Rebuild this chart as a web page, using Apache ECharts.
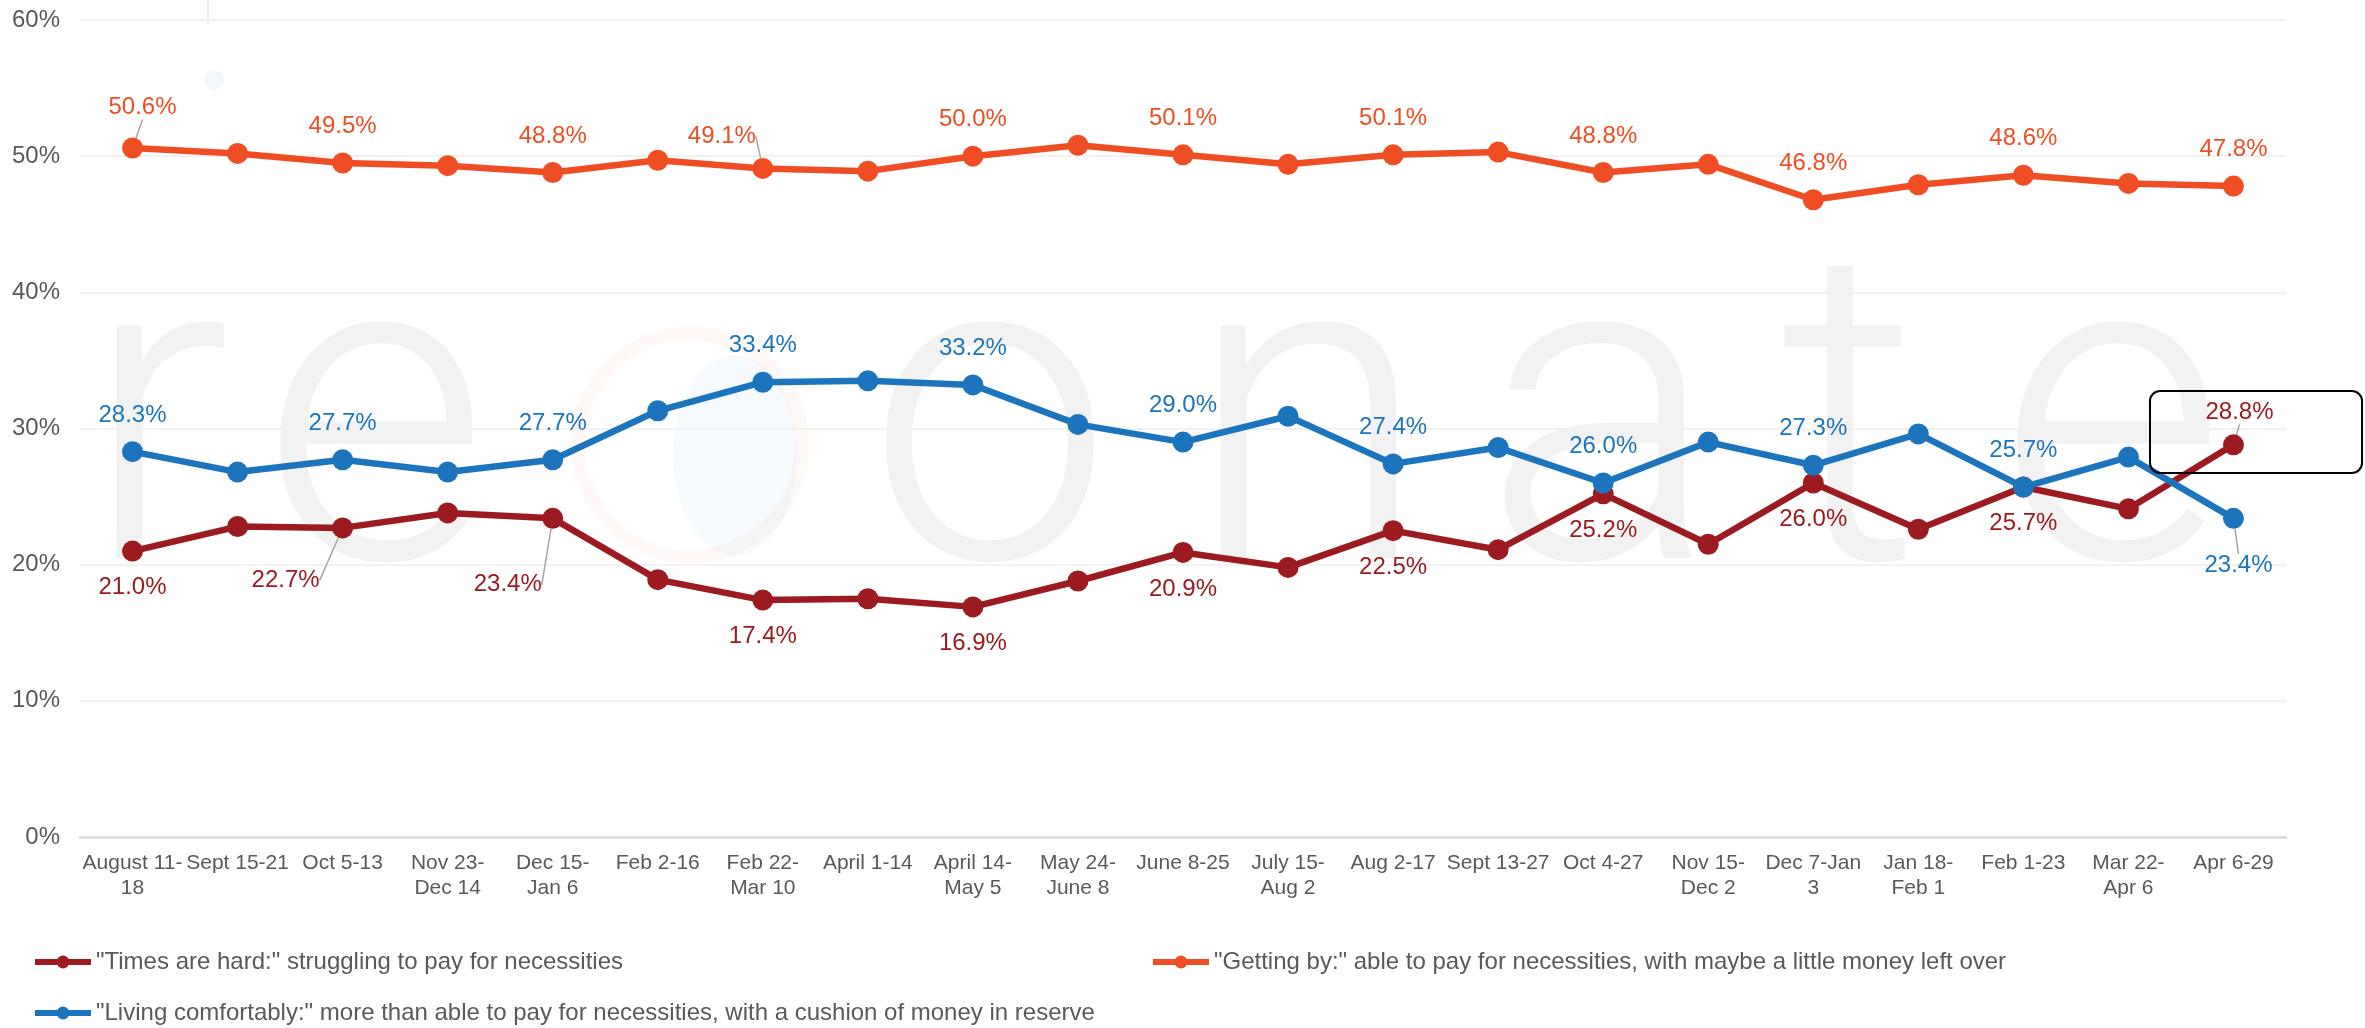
<!DOCTYPE html>
<html><head><meta charset="utf-8">
<script src="https://cdn.jsdelivr.net/npm/echarts@6/dist/echarts.min.js"></script>
<style>html,body{margin:0;padding:0;background:#fff}#c{width:2365px;height:1028px}</style>
</head><body><div id="c"></div>
<script>
// ---- data ----
const categories = ["August 11-\n18","Sept 15-21","Oct 5-13","Nov 23-\nDec 14","Dec 15-\nJan 6","Feb 2-16","Feb 22-\nMar 10","April 1-14","April 14-\nMay 5","May 24-\nJune 8","June 8-25","July 15-\nAug 2","Aug 2-17","Sept 13-27","Oct 4-27","Nov 15-\nDec 2","Dec 7-Jan\n3","Jan 18-\nFeb 1","Feb 1-23","Mar 22-\nApr 6","Apr 6-29"];
const timesHard = [21.0,22.8,22.7,23.8,23.4,18.9,17.4,17.5,16.9,18.8,20.9,19.8,22.5,21.1,25.2,21.5,26.0,22.6,25.7,24.1,28.8];
const gettingBy = [50.6,50.2,49.5,49.3,48.8,49.7,49.1,48.9,50.0,50.8,50.1,49.4,50.1,50.3,48.8,49.4,46.8,47.9,48.6,48.0,47.8];
const livingComfortably = [28.3,26.8,27.7,26.8,27.7,31.3,33.4,33.5,33.2,30.3,29.0,30.9,27.4,28.6,26.0,29.0,27.3,29.6,25.7,27.9,23.4];
const seriesNames = ['"Times are hard:" struggling to pay for necessities','"Getting by:" able to pay for necessities, with maybe a little money left over','"Living comfortably:" more than able to pay for necessities, with a cushion of money in reserve'];
const yTicks = [0,10,20,30,40,50,60];
const labeledPoints = [0,2,4,6,8,10,12,14,16,18,20];

// ---- label adjustments (layout only) ----
const labelAdjust = {
  0: {20: {pos:'top', dx:6, dy:4, line:true}, 2: {dx:-57, dy:16, line:true}, 4: {dx:-45, dy:30, line:true}},
  1: {0: {dx:10, dy:-4, line:true}, 6: {dx:-41, dy:4, line:true}},
  2: {20: {pos:'bottom', dx:5, dy:11, line:true}}
};
const colors = ['#9B1B20', '#EF4E24', '#1C75BC'];
const basePos = ['bottom', 'top', 'top'];

function buildItems(values, s) {
  return values.map((v, i) => {
    const it = {value: v};
    if (labeledPoints.indexOf(i) < 0) { it.label = {show: false}; }
    else {
      const a = labelAdjust[s][i];
      if (a) {
        if (a.pos) it.label = {position: a.pos};
        if (a.line) it.labelLine = {show: true, lineStyle: {color: '#a6a6a6', width: 1.5}};
      }
    }
    return it;
  });
}

const allValues = [timesHard, gettingBy, livingComfortably];
const series = allValues.map((vals, s) => ({
  name: seriesNames[s],
  type: 'line',
  data: buildItems(vals, s),
  symbol: 'circle',
  symbolSize: 21,
  lineStyle: {color: colors[s], width: 6.5},
  itemStyle: {color: colors[s]},
  z: 3 + s,
  label: {
    show: true,
    position: basePos[s],
    distance: 14,
    color: colors[s],
    fontSize: 24,
    fontFamily: 'Liberation Sans, Arial, sans-serif',
    formatter: p => p.value.toFixed(1) + '%'
  },
  labelLine: {show: false},
  labelLayout: (p) => {
    const a = labelAdjust[s][p.dataIndex];
    if (a) return {dx: a.dx, dy: a.dy};
    return {};
  }
}));

const wmFont = 'Roboto, "Open Sans", sans-serif';
const wmLetters = [['r',157],['e',375],['o',990],['n',1308],['a',1601],['t',1850],['e',2112]];
const graphic = wmLetters.map(([ch, x]) => ({
  type: 'text', z: -10, silent: true,
  style: {text: ch, x: x, y: 448, align: 'center', verticalAlign: 'middle',
    font: '300 440px ' + wmFont, fill: '#f2f2f2'}
}));
graphic.push(
  {type: 'circle', z: -10, silent: true, shape: {cx: 690, cy: 445, r: 112},
   style: {fill: 'none', stroke: 'rgba(240,120,80,0.05)', lineWidth: 14}},
  {type: 'ellipse', z: -10, silent: true, shape: {cx: 735, cy: 455, rx: 62, ry: 100},
   style: {fill: 'rgba(28,117,188,0.035)'}},
  {type: 'line', z: -10, silent: true, shape: {x1: 208, y1: 0, x2: 208, y2: 23},
   style: {stroke: '#d9d9d9', lineWidth: 1}},
  {type: 'circle', z: -10, silent: true, shape: {cx: 214, cy: 80, r: 10},
   style: {fill: '#f4f8fa'}},
  {type: 'rect', z: 10, silent: true, shape: {x: 2150, y: 391, width: 212, height: 82, r: 10},
   style: {fill: 'none', stroke: '#000', lineWidth: 2}}
);

const legendCommon = {
  itemWidth: 56, itemHeight: 16, itemGap: 5, padding: 0,
  lineStyle: {width: 6},
  textStyle: {fontSize: 24, color: '#595959', fontFamily: 'Liberation Sans, Arial, sans-serif'},
  selectedMode: false
};

const option = {
  animation: false,
  backgroundColor: '#fff',
  textStyle: {fontFamily: 'Liberation Sans, Arial, sans-serif'},
  grid: {left: 80, right: 79, top: 20, bottom: 191, containLabel: false, outerBoundsMode: 'none'},
  xAxis: {
    type: 'category', data: categories, boundaryGap: true,
    axisLine: {lineStyle: {color: '#d9d9d9', width: 2.5}},
    axisTick: {show: false},
    axisLabel: {interval: 0, fontSize: 21, lineHeight: 25, margin: 14, color: '#595959'},
    splitLine: {show: false}
  },
  yAxis: {
    type: 'value', min: yTicks[0], max: yTicks[yTicks.length - 1], interval: yTicks[1] - yTicks[0],
    axisLine: {show: false}, axisTick: {show: false},
    axisLabel: {formatter: '{value}%', fontSize: 24, color: '#595959', margin: 20},
    splitLine: {lineStyle: {color: '#f2f2f2', width: 2}}
  },
  legend: [
    Object.assign({data: [seriesNames[0]], left: 32, top: 950}, legendCommon),
    Object.assign({data: [seriesNames[1]], left: 1150, top: 950}, legendCommon),
    Object.assign({data: [seriesNames[2]], left: 32, top: 1001}, legendCommon)
  ],
  graphic: graphic,
  series: series
};

const chart = echarts.init(document.getElementById('c'), null, {renderer: 'canvas'});
chart.setOption(option);
</script>
</body></html>
